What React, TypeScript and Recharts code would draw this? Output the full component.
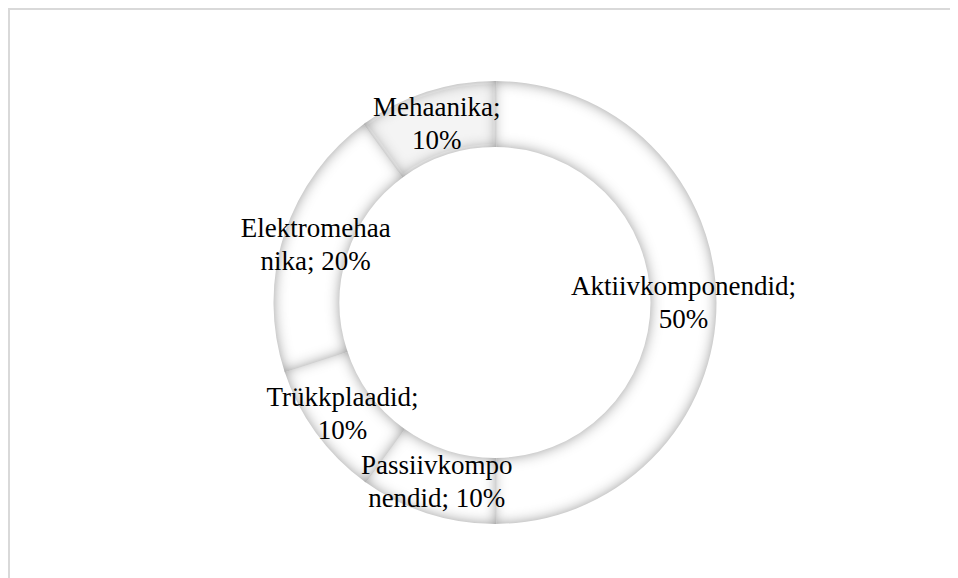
import React from "react";
import { PieChart, Pie, Cell } from "recharts";

const categories = ["Aktiivkomponendid", "Passiivkomponendid", "Trükkplaadid", "Elektromehaanika", "Mehaanika"];
const shares = [50, 10, 10, 20, 10];
const labelLines = [
  ["Aktiivkomponendid;", "50%"],
  ["Passiivkompo", "nendid; 10%"],
  ["Trükkplaadid;", "10%"],
  ["Elektromehaa", "nika; 20%"],
  ["Mehaanika;", "10%"],
];

const data = categories.map((name, i) => ({ name, value: shares[i] }));

const RADIAN = Math.PI / 180;
const FONT = "'Liberation Serif', 'Times New Roman', serif";

const renderLabel = (props: any) => {
  const { cx, cy, midAngle, innerRadius, outerRadius, index } = props;
  const r = (innerRadius + outerRadius) / 2;
  const x = cx + r * Math.cos(-midAngle * RADIAN);
  const y = cy + r * Math.sin(-midAngle * RADIAN);
  const lines = labelLines[index];
  const lh = 33;
  return (
    <text x={x} y={y} textAnchor="middle" fontFamily={FONT} fontSize={27} fill="#000">
      {lines.map((l, i) => (
        <tspan key={i} x={x} y={y + (i - (lines.length - 1) / 2) * lh} dominantBaseline="central">
          {l}
        </tspan>
      ))}
    </text>
  );
};

export default function App() {
  return (
    <div style={{ position: "relative", width: 950, height: 570 }}>
      <style>{"html{overflow:hidden}"}</style>
      <div
        style={{
          position: "absolute",
          left: 0,
          top: 0,
          width: 950,
          height: 570,
          boxSizing: "border-box",
          borderTop: "2px solid #d9d9d9",
          borderLeft: "2px solid #d9d9d9",
        }}
      />
      <div style={{ position: "absolute", left: 0, top: 0 }}>
        <PieChart width={940} height={560} accessibilityLayer={false}>
          <defs>
            <filter id="innerShadow" x="-20%" y="-20%" width="140%" height="140%">
              <feFlood floodColor="#808080" result="flood" />
              <feComposite in="flood" in2="SourceAlpha" operator="out" result="outside" />
              <feGaussianBlur in="outside" stdDeviation="7" result="blur" />
              <feComposite in="blur" in2="SourceAlpha" operator="in" result="shadow" />
              <feMerge>
                <feMergeNode in="SourceGraphic" />
                <feMergeNode in="shadow" />
              </feMerge>
            </filter>
          </defs>
          <Pie
            data={data}
            dataKey="value"
            nameKey="name"
            cx={482}
            cy={289.5}
            innerRadius={157}
            outerRadius={220}
            startAngle={90}
            endAngle={-270}
            stroke="#ffffff"
            strokeWidth={3}
            label={renderLabel}
            labelLine={false}
            isAnimationActive={false}
          >
            {data.map((d, i) => (
              <Cell key={d.name} fill={i === 4 ? "#f4f4f4" : "#ffffff"} filter="url(#innerShadow)" />
            ))}
          </Pie>
        </PieChart>
      </div>
    </div>
  );
}
